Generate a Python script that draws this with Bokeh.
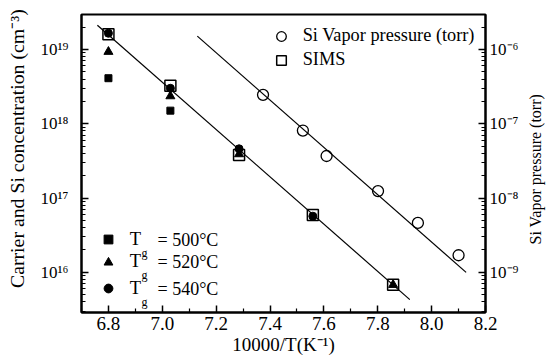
import math
from bokeh.plotting import figure
from bokeh.models import (Range1d, LogAxis, LogScale, FixedTicker, Legend, LegendItem,
                          Label, NumeralTickFormatter)
from bokeh.embed import file_html
from bokeh.resources import INLINE

# ---------------- data ----------------
x_500 = [6.80, 7.03]
n_500 = [4.1e18, 1.5e18]
x_520 = [6.80, 7.03, 7.285, 7.857]
n_520 = [9.3e18, 2.35e18, 3.9e17, 6.8e15]
x_540 = [6.80, 7.03, 7.285, 7.559]
n_540 = [1.65e19, 3.0e18, 4.6e17, 5.7e16]
x_sims = [6.80, 7.03, 7.285, 7.559, 7.857]
n_sims = [1.6e19, 3.24e18, 3.8e17, 5.9e16, 6.8e15]
x_vp = [7.374, 7.522, 7.610, 7.801, 7.949, 8.100]
p_vp = [2.45e-7, 8.1e-8, 3.68e-8, 1.24e-8, 4.63e-9, 1.7e-9]
x_sims_fit = [6.759, 7.919]
n_sims_fit = [2.12e19, 4.3e15]
x_vp_fit = [7.130, 8.128]
p_vp_fit = [1.51e-6, 1.0e-9]

x_ticks = [6.8, 7.0, 7.2, 7.4, 7.6, 7.8, 8.0, 8.2]
n_ticks = [1e16, 1e17, 1e18, 1e19]
n_tick_labels = ["10\u00b9\u2076", "10\u00b9\u2077", "10\u00b9\u2078", "10\u00b9\u2079"]
p_ticks = [1e-9, 1e-8, 1e-7, 1e-6]
p_tick_labels = ["10\u207b\u2079", "10\u207b\u2078", "10\u207b\u2077", "10\u207b\u2076"]
tg_labels = ["= 500\u00b0C", "= 520\u00b0C", "= 540\u00b0C"]

FONT = "Liberation Serif"
NBSP = "\u00a0"

p = figure(width=555, height=360,
           x_range=Range1d(6.7, 8.2),
           y_range=Range1d(10 ** 15.46, 10 ** 19.47),
           y_axis_type="log",
           output_backend="svg", toolbar_location=None,
           min_border_left=81, min_border_right=68,
           min_border_top=14, min_border_bottom=48)
p.xgrid.visible = False
p.ygrid.visible = False
p.outline_line_color = "black"
p.outline_line_width = 2
p.background_fill_color = "white"
p.border_fill_color = "white"

p.extra_y_ranges = {"vp": Range1d(10 ** -9.54, 10 ** -5.53)}
p.extra_y_scales = {"vp": LogScale()}


def style(ax):
    ax.axis_line_width = 2
    ax.axis_line_color = "black"
    ax.major_tick_in = 7
    ax.major_tick_out = 0
    ax.minor_tick_in = 4
    ax.minor_tick_out = 0
    ax.major_tick_line_width = 1.5
    ax.minor_tick_line_width = 1.2
    ax.major_tick_line_color = "black"
    ax.minor_tick_line_color = "black"
    ax.major_label_text_font = FONT
    ax.major_label_text_color = "black"
    ax.axis_label_text_font = FONT
    ax.axis_label_text_font_style = "normal"
    ax.axis_label_text_color = "black"


# bottom axis
xa = p.xaxis[0]
style(xa)
xa.ticker = FixedTicker(ticks=x_ticks, minor_ticks=[t - 0.1 for t in x_ticks])
xa.formatter = NumeralTickFormatter(format="0.0")
xa.major_label_text_font_size = "19px"
xa.major_label_standoff = 4
xa.axis_label = "10000/T(K\u207b\u00b9)"
xa.axis_label_text_font_size = "19px"
xa.axis_label_standoff = 1

# left axis (label nudged upward, as in the reference)
ya = p.yaxis[0]
style(ya)
ya.ticker = FixedTicker(ticks=n_ticks,
                        minor_ticks=[m * 10 ** k for k in range(15, 20) for m in range(2, 10)])
ya.major_label_overrides = dict(zip(n_ticks, n_tick_labels))
ya.major_label_text_font_size = "17px"
ya.major_label_standoff = 13
ya.axis_label = NBSP * 6 + "Carrier and Si concentration (cm\u207b\u00b3)"
ya.axis_label_text_font_size = "19.8px"
ya.axis_label_standoff = 9

# right axis (label reads bottom-to-top)
ra = LogAxis(y_range_name="vp")
style(ra)
ra.ticker = FixedTicker(ticks=p_ticks,
                        minor_ticks=[m * 10.0 ** k for k in range(-10, -5) for m in range(2, 10)])
ra.major_label_overrides = dict(zip(p_ticks, p_tick_labels))
ra.major_label_text_font_size = "17px"
ra.major_label_standoff = 4
ra.axis_label = NBSP * 17 + "Si Vapor pressure (torr)"
ra.axis_label_text_font_size = "16px"
ra.axis_label_standoff = 14
if "axis_label_orientation" in ra.properties():
    ra.axis_label_orientation = math.pi / 2
if "axis_label_align" in ra.properties():
    ra.axis_label_align = "start"
p.add_layout(ra, "right")

# lines
p.line(x_sims_fit, n_sims_fit, line_color="black", line_width=1.2)
p.line(x_vp_fit, p_vp_fit, line_color="black", line_width=1.2, y_range_name="vp")

# markers
r500 = p.scatter(x_500, n_500, marker="square", size=7, fill_color="black", line_color="black")
r520 = p.scatter(x_520, n_520, marker="triangle", size=9, fill_color="black", line_color="black")
r540 = p.scatter(x_540, n_540, marker="circle", size=8, fill_color="black", line_color="black")
rsims = p.scatter(x_sims, n_sims, marker="square", size=11, fill_color=None,
                  line_color="black", line_width=1.5)
rvp = p.scatter(x_vp, p_vp, marker="circle", size=11, fill_color=None,
                line_color="black", line_width=1.3, y_range_name="vp")


def make_legend(items, loc, g, standoff, fs="18px"):
    lg = Legend(items=items, location=loc, padding=0, margin=0, spacing=0,
                glyph_width=g, glyph_height=g, label_height=g,
                label_standoff=standoff, border_line_color=None,
                background_fill_alpha=0,
                label_text_font=FONT, label_text_font_size=fs,
                label_text_color="black")
    p.add_layout(lg)
    return lg


# top-right legend
make_legend([LegendItem(label="Si Vapor pressure (torr)", renderers=[rvp]),
             LegendItem(label="SIMS", renderers=[rsims])],
            (187.7, 240.5), 24, 10, "18.3px")

# bottom-left legend (T_g with subscript)
rows = [(r500, 73), (r520, 50.3), (r540, 23.7)]
for (rr, cy), txt in zip(rows, tg_labels):
    make_legend([LegendItem(label="T", renderers=[rr])], (15.7, cy - 11), 22, 11, "18.5px")
    p.add_layout(Label(x=60, y=cy - 13, x_units="screen", y_units="screen", text="g",
                       text_font=FONT, text_font_size="12px", text_color="black",
                       text_baseline="alphabetic"))
    p.add_layout(Label(x=76, y=cy, x_units="screen", y_units="screen", text=txt,
                       text_font=FONT, text_font_size="18px", text_color="black",
                       text_baseline="middle"))

open("out.html", "w").write(file_html(p, INLINE))
